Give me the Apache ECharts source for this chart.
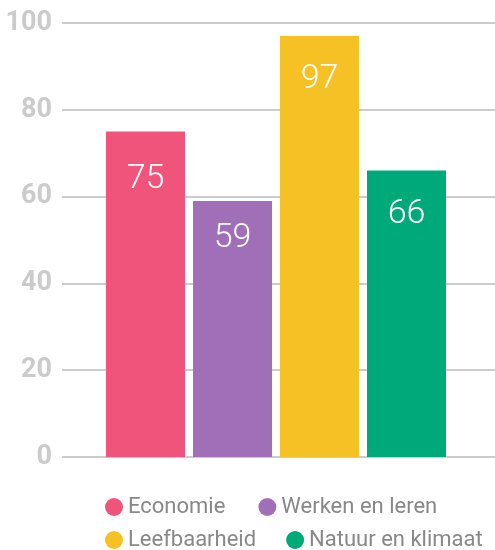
<!DOCTYPE html>
<html>
<head>
<meta charset="utf-8">
<script src="https://cdn.jsdelivr.net/npm/echarts@6/dist/echarts.min.js"></script>
<style>
  html, body { margin: 0; padding: 0; background: #fff; }
  #chart { width: 495px; height: 550px; }
</style>
</head>
<body>
<div id="chart"></div>
<script>
const categories = ['Economie', 'Werken en leren', 'Leefbaarheid', 'Natuur en klimaat'];
const values = [75, 59, 97, 66];
const colors = ['#f0547a', '#a06fb8', '#f6c124', '#00a97a'];
const labelDistances = [31, 21, 26, 27];
const yTicks = { min: 0, max: 100, interval: 20 };

const chart = echarts.init(document.getElementById('chart'));

// one series per category so the legend gets one entry each
const series = categories.map((name, i) => ({
  name: name,
  type: 'bar',
  stack: 'all',
  xAxisIndex: 1,
  yAxisIndex: 1,
  barWidth: 79,
  data: values.map((v, j) => (j === i ? v : '-')),
  itemStyle: { color: colors[i] },
  label: {
    show: true,
    position: 'insideTop',
    distance: labelDistances[i],
    color: '#fff',
    fontFamily: 'Roboto',
    fontWeight: 300,
    fontSize: 34
  }
}));

const legendBase = {
  left: 100,
  icon: 'circle',
  itemWidth: 18,
  itemHeight: 18,
  textStyle: { color: '#888', fontSize: 22 }
};

chart.setOption({
  animation: false,
  textStyle: { fontFamily: 'Roboto' },
  grid: [
    // background grid: axis labels + gridlines across the full width
    { left: 62, right: 0, top: 23, bottom: 93 },
    // bars
    { left: 102, right: 45, top: 23, bottom: 93 }
  ],
  xAxis: [
    { gridIndex: 0, type: 'category', data: categories, show: false },
    { gridIndex: 1, type: 'category', data: categories, show: false }
  ],
  yAxis: [
    {
      gridIndex: 0,
      type: 'value',
      min: yTicks.min,
      max: yTicks.max,
      interval: yTicks.interval,
      axisLine: { show: false },
      axisTick: { show: false },
      axisLabel: {
        color: '#cbcbcb',
        fontWeight: 'bold',
        fontSize: 27,
        margin: 10
      },
      splitLine: { lineStyle: { color: '#cccccc', width: 2 } }
    },
    {
      gridIndex: 1,
      type: 'value',
      min: yTicks.min,
      max: yTicks.max,
      show: false,
      splitLine: { show: false }
    }
  ],
  // two legend rows, as in the original
  legend: [
    Object.assign({}, legendBase, { data: categories.slice(0, 2), top: 491, itemGap: 33 }),
    Object.assign({}, legendBase, { data: categories.slice(2), top: 524, itemGap: 30 })
  ],
  series: series
});
</script>
</body>
</html>
